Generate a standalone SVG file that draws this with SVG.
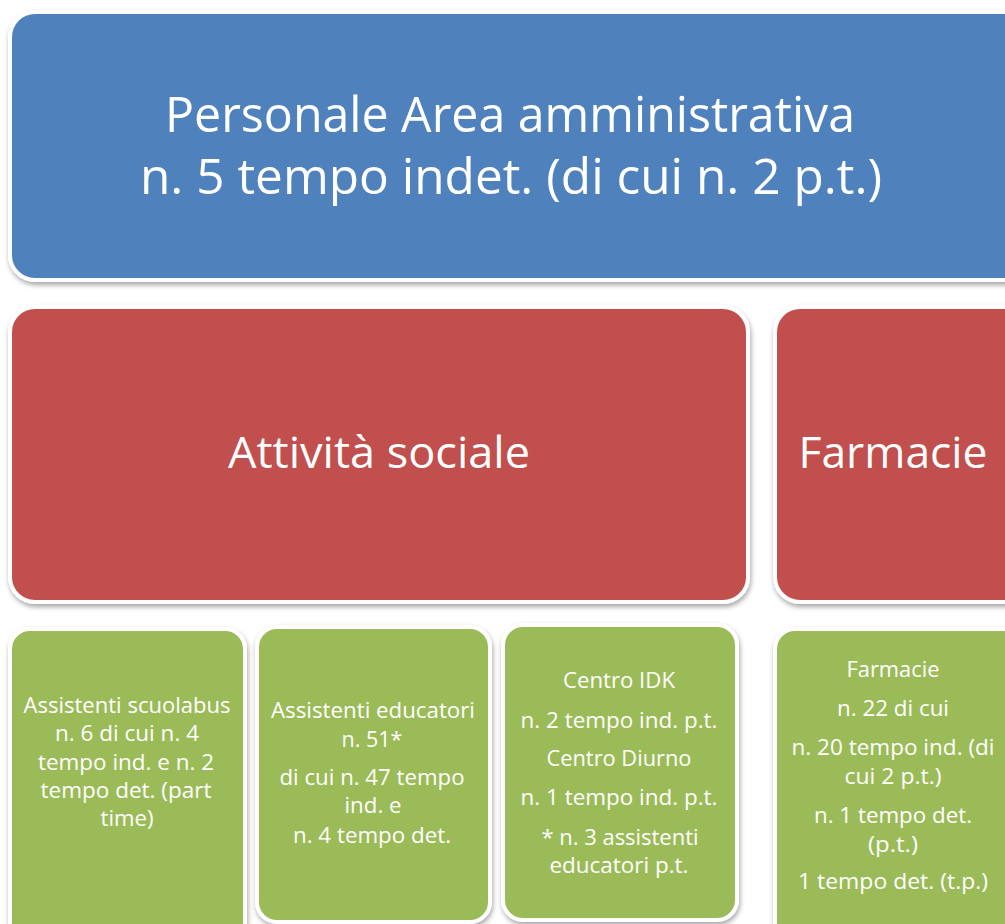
<svg xmlns="http://www.w3.org/2000/svg" width="1005" height="924" viewBox="0 0 1005 924">
<defs>
<filter id="sh" x="-5%" y="-5%" width="110%" height="115%">
<feDropShadow dx="1" dy="3" stdDeviation="2.5" flood-color="#000" flood-opacity="0.35"/>
</filter>
</defs>
<style>
.box{stroke:#fff;stroke-width:4;filter:url(#sh)}
.blue{fill:#4F81BD}
.red{fill:#C0504D}
.green{fill:#9BBB59}
text{font-family:"Open Sans","Noto Sans",sans-serif;fill:#fff;text-anchor:middle}
.t1{font-size:49px}
.t2{font-size:44px}
.t3{font-size:21.5px}
</style>
<rect width="1005" height="924" fill="#fff"/>
<g id="personale">
<rect class="box blue" x="10" y="12" width="1030" height="268" rx="25"/>
<text class="t1" x="510" y="132" textLength="690" lengthAdjust="spacingAndGlyphs">Personale Area amministrativa</text>
<text class="t1" x="511" y="194" textLength="742" lengthAdjust="spacingAndGlyphs">n. 5 tempo indet. (di cui n. 2 p.t.)</text>
</g>
<g id="attivita">
<rect class="box red" x="10" y="307" width="738" height="295" rx="25"/>
<text class="t2" x="379" y="468" textLength="302" lengthAdjust="spacingAndGlyphs">Attività sociale</text>
</g>
<g id="farmacie">
<rect class="box red" x="775" y="307" width="260" height="295" rx="25"/>
<text class="t2" x="893" y="468" textLength="189" lengthAdjust="spacingAndGlyphs">Farmacie</text>
</g>
<g id="scuolabus">
<rect class="box green" x="10" y="629" width="235" height="320" rx="20"/>
<text class="t3" x="127" y="713" textLength="207" lengthAdjust="spacingAndGlyphs">Assistenti scuolabus</text>
<text class="t3" x="127" y="741" textLength="144" lengthAdjust="spacingAndGlyphs">n. 6 di cui n. 4</text>
<text class="t3" x="126" y="770" textLength="176" lengthAdjust="spacingAndGlyphs">tempo ind. e n. 2</text>
<text class="t3" x="126" y="798" textLength="171" lengthAdjust="spacingAndGlyphs">tempo det. (part</text>
<text class="t3" x="127" y="826" textLength="53" lengthAdjust="spacingAndGlyphs">time)</text>
</g>
<g id="educatori">
<rect class="box green" x="257" y="627" width="233" height="295" rx="20"/>
<text class="t3" x="373" y="718" textLength="204" lengthAdjust="spacingAndGlyphs">Assistenti educatori</text>
<text class="t3" x="372" y="747" textLength="61" lengthAdjust="spacingAndGlyphs">n. 51*</text>
<text class="t3" x="372" y="785" textLength="185" lengthAdjust="spacingAndGlyphs">di cui n. 47 tempo</text>
<text class="t3" x="373" y="813" textLength="57" lengthAdjust="spacingAndGlyphs">ind. e</text>
<text class="t3" x="372" y="843" textLength="158" lengthAdjust="spacingAndGlyphs">n. 4 tempo det.</text>
</g>
<g id="centri">
<rect class="box green" x="503" y="625" width="234" height="295" rx="20"/>
<text class="t3" x="619" y="688" textLength="112" lengthAdjust="spacingAndGlyphs">Centro IDK</text>
<text class="t3" x="619" y="728" textLength="197" lengthAdjust="spacingAndGlyphs">n. 2 tempo ind. p.t.</text>
<text class="t3" x="619" y="766" textLength="145" lengthAdjust="spacingAndGlyphs">Centro Diurno</text>
<text class="t3" x="619" y="805" textLength="197" lengthAdjust="spacingAndGlyphs">n. 1 tempo ind. p.t.</text>
<text class="t3" x="620" y="845" textLength="157" lengthAdjust="spacingAndGlyphs">* n. 3 assistenti</text>
<text class="t3" x="619" y="873" textLength="139" lengthAdjust="spacingAndGlyphs">educatori p.t.</text>
</g>
<g id="farmacie-dettaglio">
<rect class="box green" x="775" y="629" width="260" height="320" rx="20"/>
<text class="t3" x="893" y="677" textLength="93" lengthAdjust="spacingAndGlyphs">Farmacie</text>
<text class="t3" x="893" y="716" textLength="112" lengthAdjust="spacingAndGlyphs">n. 22 di cui</text>
<text class="t3" x="893" y="755" textLength="203" lengthAdjust="spacingAndGlyphs">n. 20 tempo ind. (di</text>
<text class="t3" x="893" y="784" textLength="97" lengthAdjust="spacingAndGlyphs">cui 2 p.t.)</text>
<text class="t3" x="893" y="823" textLength="158" lengthAdjust="spacingAndGlyphs">n. 1 tempo det.</text>
<text class="t3" x="893" y="852" textLength="50" lengthAdjust="spacingAndGlyphs">(p.t.)</text>
<text class="t3" x="893" y="889" textLength="190" lengthAdjust="spacingAndGlyphs">1 tempo det. (t.p.)</text>
</g>
<g id="connectors"/>
</svg>
